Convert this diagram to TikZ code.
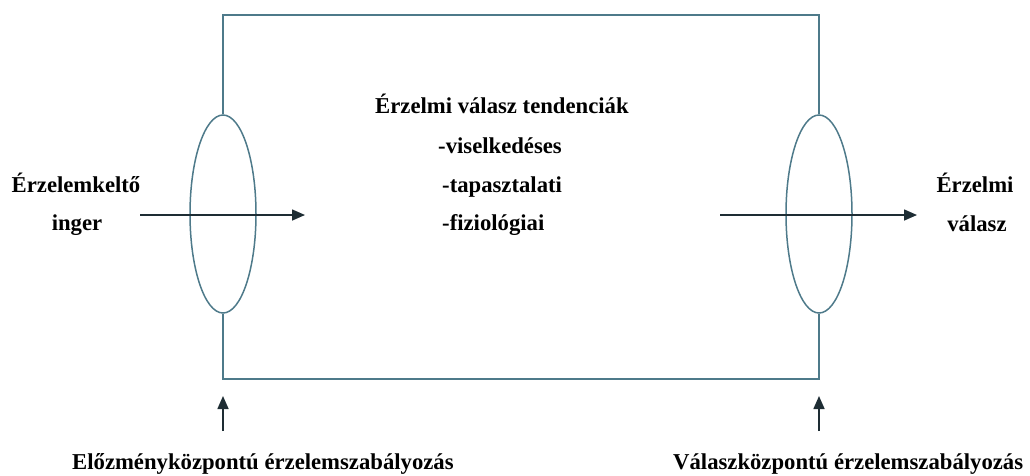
\documentclass[tikz,border=0pt]{standalone}
\usepackage{fontspec}
\setmainfont{Liberation Serif}
\usetikzlibrary{arrows.meta,shapes.geometric}
\definecolor{frame}{RGB}{78,122,138}
\definecolor{arrowc}{RGB}{30,45,52}
\tikzset{
  lbl/.style={inner sep=0pt, font=\fontsize{22.7}{27}\selectfont\bfseries, text=black},
  lens/.style={ellipse, draw=frame, line width=1.5pt, minimum width=66pt, minimum height=198pt, inner sep=0pt},
  framel/.style={draw=frame, line width=2pt},
  arr/.style={draw=arrowc, line width=1.6pt, -{Triangle[length=13pt,width=11pt]}}
}
\begin{document}
\begin{tikzpicture}[x=1pt,y=-1pt]
\useasboundingbox (0,0) rectangle (1030,475);
% lenses
\node[lens] (L1) at (223,214) {};
\node[lens] (L2) at (819,214) {};
% frame corners
\coordinate (tl) at (223,15);
\coordinate (tr) at (819,15);
\coordinate (bl) at (223,379);
\coordinate (br) at (819,379);
\draw[framel] (L1.north) -- (tl) -- (tr) -- (L2.north);
\draw[framel] (L1.south) -- (bl) -- (br) -- (L2.south);
% texts
\node[lbl, anchor=base] (in1) at (76,192) {Érzelemkeltő};
\node[lbl, anchor=base] (in2) at (77,230) {inger};
\node[lbl, anchor=base] (out1) at (975,192) {Érzelmi};
\node[lbl, anchor=base] (out2) at (977,231) {válasz};
\node[lbl, anchor=base west] (c1) at (375,113) {Érzelmi válasz tendenciák};
\node[lbl, anchor=base west] (c2) at (438,153) {-viselkedéses};
\node[lbl, anchor=base west] (c3) at (442,192) {-tapasztalati};
\node[lbl, anchor=base west] (c4) at (442,230) {-fiziológiai};
\node[lbl, anchor=base west] (b1) at (72,469) {Előzményközpontú érzelemszabályozás};
\node[lbl, anchor=base west] (b2) at (673,469) {Válaszközpontú érzelemszabályozás};
% arrows
\coordinate (h1s) at (140,215);
\coordinate (h1e) at (305,215);
\coordinate (h2s) at (720,215);
\coordinate (h2e) at (917,215);
\draw[arr] (h1s) -- (h1e);
\draw[arr] (h2s) -- (h2e);
\coordinate (v1s) at (223,431);
\coordinate (v1e) at (223,396);
\coordinate (v2s) at (819,431);
\coordinate (v2e) at (819,396);
\draw[arr] (v1s) -- (v1e);
\draw[arr] (v2s) -- (v2e);
\end{tikzpicture}
\end{document}
